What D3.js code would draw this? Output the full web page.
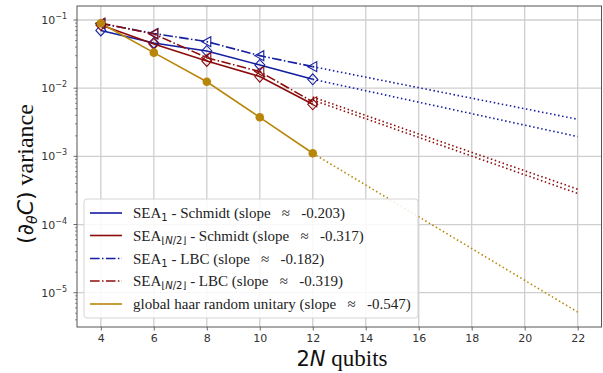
<!DOCTYPE html>
<html>
<head>
<meta charset="utf-8">
<script src="https://cdn.jsdelivr.net/npm/d3@7"></script>
<style>
  body { margin: 0; background: #fff; }
  svg { display: block; }
</style>
</head>
<body>
<script>
const qubits = [4, 6, 8, 10, 12]
const sea1Schmidt = [0.0702, 0.046, 0.0351, 0.0219, 0.0135]
const seaHalfSchmidt = [0.0845, 0.0445, 0.0251, 0.0148, 0.0058]
const sea1LBC = [0.0889, 0.0634, 0.0481, 0.030, 0.0207]
const seaHalfLBC = [0.090, 0.0623, 0.028, 0.0175, 0.0063]
const haar = [0.0895, 0.0332, 0.0124, 0.00374, 0.00111]

// fitted extrapolation, value at x = 12 and x = 22
const fitX = [12, 22]
const fit1Schmidt = [0.0135, 0.00195]
const fitHalfSchmidt = [0.0074, 0.00033]
const fit1LBC = [0.0207, 0.0035]
const fitHalfLBC = [0.0067, 0.000286]
const fitHaar = [0.00111, 0.0000052]

const slopes = ['-0.203', '-0.317', '-0.182', '-0.319', '-0.547']
const xTicks = [4, 6, 8, 10, 12, 14, 16, 18, 20, 22]
const yExps = [-1, -2, -3, -4, -5]

const blue = '#141ea0'
const red = '#8c0c0c'
const gold = '#b8860b'
const dashdot = '9.6,2.4,1.5,2.4'
const serif = 'Liberation Serif'
const sans = 'DejaVu Sans'

let series = [
    {vals: sea1Schmidt, fit: fit1Schmidt, color: blue, dash: null, marker: 'diamond', name: 'one', kind: 'Schmidt'},
    {vals: seaHalfSchmidt, fit: fitHalfSchmidt, color: red, dash: null, marker: 'diamond', name: 'half', kind: 'Schmidt'},
    {vals: sea1LBC, fit: fit1LBC, color: blue, dash: dashdot, marker: 'tri', name: 'one', kind: 'LBC'},
    {vals: seaHalfLBC, fit: fitHalfLBC, color: red, dash: dashdot, marker: 'tri', name: 'half', kind: 'LBC'},
    {vals: haar, fit: fitHaar, color: gold, dash: null, marker: 'circle', name: 'haar'}
]

let W = 603, H = 373
let plot = {left: 77, right: 601.5, top: 6, bottom: 327}

let svg = d3.select('body').append('svg').attr('width', W).attr('height', H)

let x = d3.scaleLinear().domain([3.1, 22.9]).range([plot.left, plot.right])
let y = d3.scaleLog().domain([Math.pow(10, -5.503), Math.pow(10, -0.7947)]).range([plot.bottom, plot.top])

// grid
let grid = svg.append('g')
grid.selectAll('line.gx').data(xTicks).join('line')
    .attr('x1', d => x(d)).attr('x2', d => x(d))
    .attr('y1', plot.top).attr('y2', plot.bottom)
    .attr('stroke', '#cfcfcf').attr('stroke-width', 1.3)
grid.selectAll('line.gy').data(yExps).join('line')
    .attr('y1', d => y(Math.pow(10, d))).attr('y2', d => y(Math.pow(10, d)))
    .attr('x1', plot.left).attr('x2', plot.right)
    .attr('stroke', '#cfcfcf').attr('stroke-width', 1.3)

// axes
let xAxis = d3.axisBottom(x).tickValues(xTicks).tickSize(3.5).tickPadding(3.5).tickFormat(d3.format('d'))
let gx = svg.append('g').attr('transform', 'translate(0,' + plot.bottom + ')').call(xAxis)
gx.select('.domain').remove()
gx.attr('font-family', sans).attr('font-size', 11)
gx.selectAll('line').attr('stroke', '#444').attr('stroke-width', 0.8)
gx.selectAll('text').attr('fill', '#333')

let minorVals = []
for (let e = -6; e <= -1; e++) {
    for (let m = 2; m <= 9; m++) {
        let v = m * Math.pow(10, e)
        if (v >= y.domain()[0] && v <= y.domain()[1]) minorVals.push(v)
    }
}
let gy = svg.append('g').attr('transform', 'translate(' + plot.left + ',0)')
gy.selectAll('line.minor').data(minorVals).join('line')
    .attr('x1', -2).attr('x2', 0)
    .attr('y1', d => y(d)).attr('y2', d => y(d))
    .attr('stroke', '#444').attr('stroke-width', 0.6)
gy.selectAll('line.major').data(yExps).join('line')
    .attr('x1', -3.5).attr('x2', 0)
    .attr('y1', d => y(Math.pow(10, d))).attr('y2', d => y(Math.pow(10, d)))
    .attr('stroke', '#444').attr('stroke-width', 0.8)
let ylab = gy.selectAll('text.tick').data(yExps).join('text')
    .attr('x', -10).attr('y', d => y(Math.pow(10, d)) + 4)
    .attr('text-anchor', 'end')
    .attr('font-family', sans).attr('font-size', 11).attr('fill', '#333')
ylab.append('tspan').text('10')
ylab.append('tspan').attr('dy', -5).attr('font-size', 8).text(d => '\u2212' + (-d))

// data lines
let line = d3.line().x(d => x(d[0])).y(d => y(d[1]))
let lines = svg.append('g')
series.forEach(s => {
    let pts = qubits.map((q, i) => [q, s.vals[i]])
    lines.append('path').datum(pts).attr('d', line)
        .attr('fill', 'none').attr('stroke', s.color).attr('stroke-width', 1.6)
        .attr('stroke-dasharray', s.dash)
    let fpts = fitX.map((q, i) => [q, s.fit[i]])
    lines.append('path').datum(fpts).attr('d', line)
        .attr('fill', 'none').attr('stroke', s.color).attr('stroke-width', 1.6)
        .attr('stroke-dasharray', '1.5,2.6')
})

// markers
let marks = svg.append('g')
series.forEach(s => {
    let pts = qubits.map((q, i) => [q, s.vals[i]])
    if (s.marker === 'circle') {
        marks.selectAll(null).data(pts).join('circle')
            .attr('cx', d => x(d[0])).attr('cy', d => y(d[1])).attr('r', 4.3)
            .attr('fill', s.color)
    } else if (s.marker === 'diamond') {
        marks.selectAll(null).data(pts).join('path')
            .attr('d', d => {
                let cx = x(d[0]), cy = y(d[1])
                return 'M' + cx + ',' + (cy - 5.5) + 'L' + (cx + 5) + ',' + cy + 'L' + cx + ',' + (cy + 5.5) + 'L' + (cx - 5) + ',' + cy + 'Z'
            })
            .attr('fill', 'none').attr('stroke', s.color).attr('stroke-width', 1.1)
    } else {
        marks.selectAll(null).data(pts).join('path')
            .attr('d', d => {
                let cx = x(d[0]), cy = y(d[1])
                return 'M' + (cx - 5) + ',' + cy + 'L' + (cx + 4) + ',' + (cy - 5) + 'L' + (cx + 4) + ',' + (cy + 5) + 'Z'
            })
            .attr('fill', 'none').attr('stroke', s.color).attr('stroke-width', 1.1)
    }
})

// spines
svg.append('rect')
    .attr('x', plot.left).attr('y', plot.top)
    .attr('width', plot.right - plot.left).attr('height', plot.bottom - plot.top)
    .attr('fill', 'none').attr('stroke', '#555').attr('stroke-width', 1)

// legend
let legend = svg.append('g')
legend.append('rect')
    .attr('x', 84).attr('y', 199).attr('width', 334).attr('height', 119).attr('rx', 3)
    .attr('fill', 'white').attr('fill-opacity', 0.85).attr('stroke', '#d5d5d5').attr('stroke-width', 1)

let rowY = [213, 235.5, 258.5, 281, 304]
series.forEach((s, i) => {
    let ry = rowY[i]
    legend.append('line')
        .attr('x1', 90).attr('x2', 122).attr('y1', ry).attr('y2', ry)
        .attr('stroke', s.color).attr('stroke-width', 1.6)
        .attr('stroke-dasharray', s.dash)
    let t = legend.append('text').attr('x', 133).attr('y', ry + 5)
        .attr('font-family', serif).attr('font-size', 15).attr('fill', '#222')
    let tail = ' (slope \u2002\u2248\u2002 ' + slopes[i] + ')'
    if (s.name === 'haar') {
        t.append('tspan').text('global haar random unitary' + tail)
    } else {
        t.append('tspan').text('SEA')
        if (s.name === 'one') {
            t.append('tspan').attr('dy', 3).attr('font-family', sans).attr('font-size', 10).text('1')
        } else {
            t.append('tspan').attr('dy', 3).attr('font-family', sans).attr('font-size', 10).text('\u230a')
            t.append('tspan').attr('font-family', sans).attr('font-size', 10).attr('font-style', 'italic').text('N')
            t.append('tspan').attr('font-family', sans).attr('font-size', 10).text('/2\u230b')
        }
        t.append('tspan').attr('dy', -3).text(' - ' + s.kind + tail)
    }
})

// axis labels
let xl = svg.append('text').attr('x', 342).attr('y', 366).attr('text-anchor', 'middle')
    .attr('font-size', 21).attr('fill', '#111')
xl.append('tspan').attr('font-family', sans).text('2')
xl.append('tspan').attr('font-family', sans).attr('font-style', 'italic').text('N')
xl.append('tspan').attr('font-family', serif).attr('font-size', 23).text(' qubits')

let yl = svg.append('text')
    .attr('transform', 'translate(33,174) rotate(-90)')
    .attr('text-anchor', 'middle')
    .attr('font-size', 22).attr('fill', '#111')
yl.append('tspan').attr('font-family', sans).text('(\u2202')
yl.append('tspan').attr('dy', 4).attr('font-family', sans).attr('font-style', 'italic').attr('font-size', 14).text('\u03b8')
yl.append('tspan').attr('dy', -4).attr('font-family', sans).attr('font-style', 'italic').text('C')
yl.append('tspan').attr('font-family', sans).text(')')
yl.append('tspan').attr('font-family', serif).attr('font-size', 24).text(' variance')
</script>
</body>
</html>
